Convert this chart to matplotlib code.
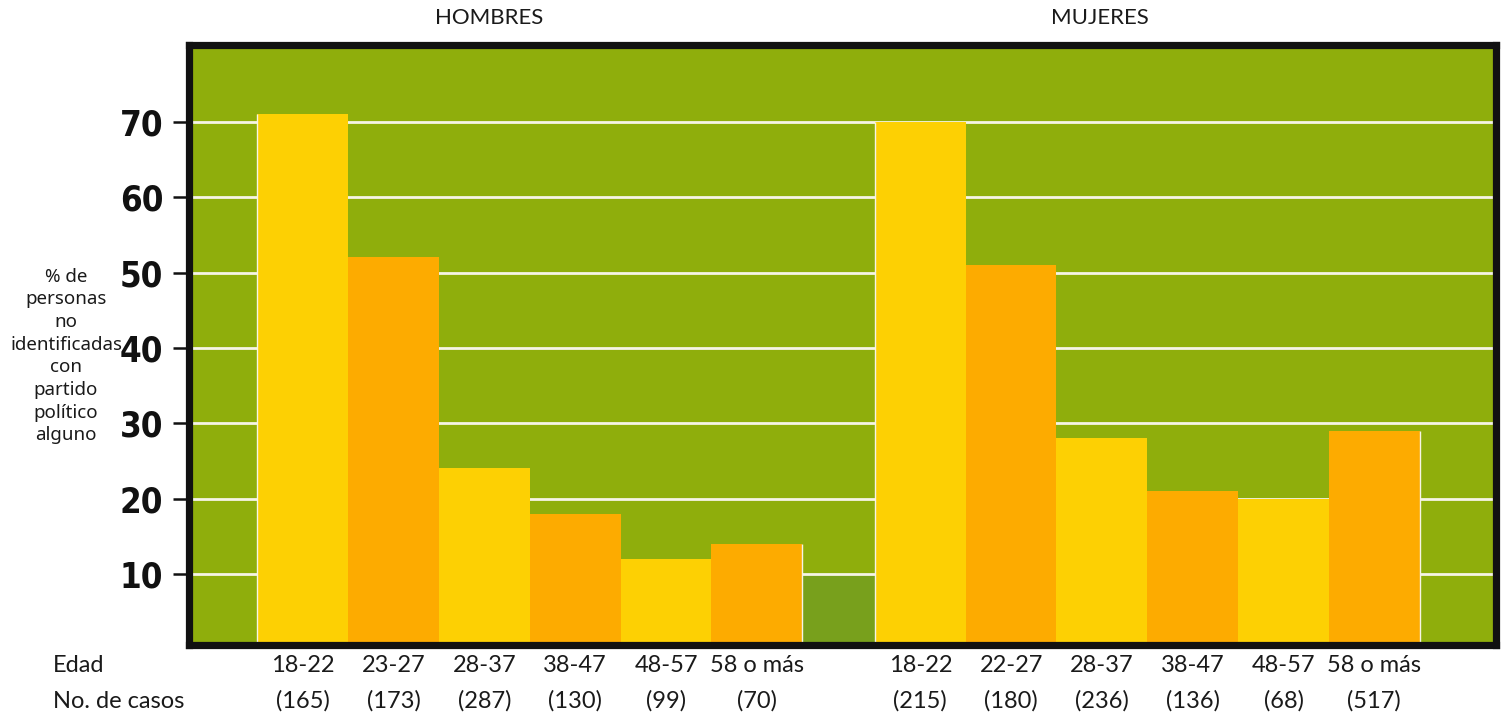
import matplotlib.pyplot as plt
import matplotlib.transforms as mtransforms
from matplotlib.patches import Rectangle

# Porcentaje de personas no identificadas con partido político, por edad y sexo
edades_h = ['18-22', '23-27', '28-37', '38-47', '48-57', '58 o más']
casos_h = ['(165)', '(173)', '(287)', '(130)', '(99)', '(70)']
pct_h = [71, 52, 24, 18, 12, 14]

edades_m = ['18-22', '22-27', '28-37', '38-47', '48-57', '58 o más']
casos_m = ['(215)', '(180)', '(236)', '(136)', '(68)', '(517)']
pct_m = [70, 51, 28, 21, 20, 29]

y_ticks = [10, 20, 30, 40, 50, 60, 70]

verde = '#8fae0c'
verde_osc = '#78a01c'
amarillo = '#fdd003'
naranja = '#fdab00'
blanco = '#f6f4e6'

fig = plt.figure(figsize=(15.01, 7.19), dpi=100)
ax = fig.add_axes([189 / 1501, 74.5 / 719, 1307 / 1501, 600 / 719])
ax.set_facecolor(verde)

x_h = [i for i in range(len(pct_h))]
x_m = [6.8 + i for i in range(len(pct_m))]
colores = [amarillo, naranja] * 3

ax.set_xlim(-1.253, 13.14)
ax.set_ylim(0.65, 80.25)

# mancha más oscura entre los dos grupos, bajo la línea del 10
ax.add_patch(Rectangle((x_h[-1] + 0.5, 0), x_m[0] - x_h[-1] - 1, y_ticks[0],
                       facecolor=verde_osc, edgecolor='none', zorder=1))

for y in y_ticks:
    ax.axhline(y, color=blanco, lw=2, zorder=2)

ax.bar(x_h, pct_h, width=1.0, color=colores, zorder=3)
ax.bar(x_m, pct_m, width=1.0, color=colores, zorder=3)

# borde blanco en los costados de cada grupo
for xs, vals in [(x_h, pct_h), (x_m, pct_m)]:
    ax.vlines([xs[0] - 0.5, xs[-1] + 0.5], 0, [vals[0], vals[-1]],
              color=blanco, lw=1, zorder=4)

for s in ax.spines.values():
    s.set_linewidth(5.2)
    s.set_color('#111111')
    s.set_zorder(5)

ax.set_xticks([])
ax.set_yticks(y_ticks)
ax.tick_params(axis='y', length=11.5, width=1.8, pad=7, color='#111111')
for lab in ax.get_yticklabels():
    lab.set_family('DejaVu Sans')
    lab.set_stretch('condensed')
    lab.set_fontweight('bold')
    lab.set_fontsize(25)
    lab.set_color('#111111')

fuente = ['Lato', 'DejaVu Sans']
trans = mtransforms.blended_transform_factory(ax.transData, fig.transFigure)
for xs, edades, casos in [(x_h, edades_h, casos_h), (x_m, edades_m, casos_m)]:
    for x, e, c in zip(xs, edades, casos):
        ax.text(x, 0.075, e, transform=trans, ha='center', va='center',
                fontsize=17, family=fuente, color='#1a1a1a')
        ax.text(x, 0.025, c, transform=trans, ha='center', va='center',
                fontsize=17, family=fuente, color='#1a1a1a')

fig.text(53 / 1501, 0.075, 'Edad', ha='left', va='center',
         fontsize=17, family=fuente, color='#1a1a1a')
fig.text(53 / 1501, 0.025, 'No. de casos', ha='left', va='center',
         fontsize=17, family=fuente, color='#1a1a1a')

ax.text(2.05, 0.975, 'HOMBRES', transform=trans, ha='center', va='center',
        fontsize=16, family=fuente, color='#1a1a1a')
ax.text(8.78, 0.975, 'MUJERES', transform=trans, ha='center', va='center',
        fontsize=16, family=fuente, color='#1a1a1a')

fig.text(66 / 1501, (719 - 356) / 719,
         '% de\npersonas\nno\nidentificadas\ncon\npartido\npolítico\nalguno',
         ha='center', va='center', multialignment='center', linespacing=1.33,
         fontsize=13.5, family=['Noto Sans', 'DejaVu Sans'], color='#1a1a1a')

fig.savefig('out.png', dpi=100, facecolor='white')
